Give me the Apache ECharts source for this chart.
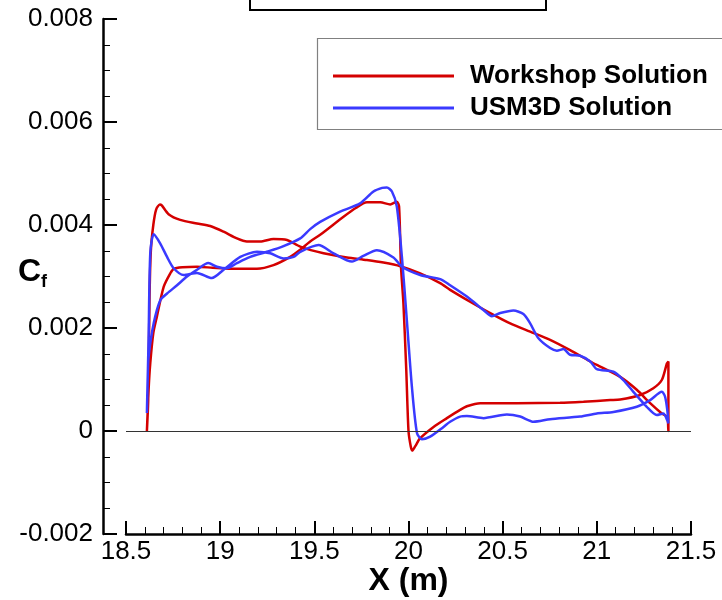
<!DOCTYPE html>
<html>
<head>
<meta charset="utf-8">
<script src="https://cdn.jsdelivr.net/npm/echarts@6/dist/echarts.min.js"></script>
<style>
html,body{margin:0;padding:0;background:#fff;}
#chart{width:722px;height:600px;}
</style>
</head>
<body>
<div id="chart"></div>
<script>
// ---- data ----
const seriesNames = ['Workshop Solution', 'USM3D Solution'];
const xTickLabels = ['18.5', '19', '19.5', '20', '20.5', '21', '21.5'];
const yTickLabels = ['-0.002', '0', '0.002', '0.004', '0.006', '0.008'];

// Workshop: branch through leading-edge peak, continuing to trailing edge
const workshopBranchA = [
  [18.611, 0.0000], [18.618, 0.0006], [18.625, 0.0026], [18.632, 0.0035],
  [18.645, 0.0040], [18.660, 0.0043], [18.680, 0.00440], [18.690, 0.00438],
  [18.726, 0.00421], [18.788, 0.00410], [18.877, 0.00403], [18.947, 0.00398],
  [19.018, 0.00387], [19.089, 0.00374], [19.142, 0.00368], [19.213, 0.00368],
  [19.283, 0.00373], [19.355, 0.00371], [19.425, 0.00358], [19.549, 0.00345],
  [19.673, 0.00337], [19.779, 0.00332], [19.867, 0.00327], [19.956, 0.00320],
  [20.062, 0.00306], [20.168, 0.00287], [20.221, 0.00274], [20.327, 0.00251],
  [20.434, 0.00229], [20.540, 0.00209], [20.646, 0.00193], [20.752, 0.00177],
  [20.858, 0.00157], [20.965, 0.00135], [21.018, 0.00125], [21.124, 0.00105],
  [21.212, 0.00080], [21.283, 0.00054], [21.345, 0.00034], [21.374, 0.00027],
  [21.380, 0.0000]
];
// Workshop: branch through the shock region
const workshopBranchB = [
  [18.611, 0.0000], [18.620, 0.0008], [18.629, 0.00132], [18.645, 0.0019],
  [18.664, 0.00222], [18.700, 0.0028], [18.735, 0.00306], [18.753, 0.00315],
  [18.800, 0.00318], [18.877, 0.00319], [18.960, 0.00317], [19.054, 0.00315],
  [19.195, 0.00315], [19.283, 0.00322], [19.372, 0.00338], [19.425, 0.00352],
  [19.478, 0.00368], [19.531, 0.00381], [19.655, 0.00416], [19.720, 0.00433],
  [19.779, 0.00444], [19.850, 0.00444], [19.903, 0.00440], [19.938, 0.00445],
  [19.950, 0.00436], [19.960, 0.0032], [19.973, 0.00248], [19.988, 0.0012],
  [20.000, 0.0000], [20.012, -0.00030], [20.020, -0.00038], [20.035, -0.00030],
  [20.062, -0.00014], [20.133, 0.00008], [20.204, 0.00025], [20.274, 0.00041],
  [20.310, 0.00048], [20.381, 0.00054], [20.575, 0.00054], [20.805, 0.00055],
  [20.929, 0.00057], [21.071, 0.00060], [21.124, 0.00061], [21.230, 0.00070],
  [21.300, 0.00083], [21.345, 0.00099], [21.372, 0.00131], [21.380, 0.00135],
  [21.381, 0.0000]
];
// USM3D: branch through leading-edge peak, continuing to trailing edge
const usm3dBranchA = [
  [18.611, 0.00035], [18.620, 0.0018], [18.629, 0.00346], [18.647, 0.00382],
  [18.682, 0.00364], [18.718, 0.00338], [18.753, 0.00316], [18.806, 0.00303],
  [18.877, 0.00307], [18.956, 0.00297], [19.018, 0.00313], [19.107, 0.00338],
  [19.195, 0.00348], [19.266, 0.00345], [19.337, 0.00335], [19.390, 0.00338],
  [19.425, 0.00348], [19.522, 0.00361], [19.602, 0.00345], [19.700, 0.00329],
  [19.760, 0.00340], [19.832, 0.00351], [19.920, 0.00337], [19.965, 0.00319],
  [20.062, 0.00303], [20.168, 0.00295], [20.221, 0.00283], [20.310, 0.00261],
  [20.398, 0.00235], [20.443, 0.00223], [20.487, 0.00229], [20.557, 0.00234],
  [20.610, 0.00227], [20.646, 0.00209], [20.690, 0.00180], [20.752, 0.00161],
  [20.788, 0.00156], [20.823, 0.00159], [20.858, 0.00148], [20.911, 0.00146],
  [20.965, 0.00135], [21.000, 0.00120], [21.088, 0.00115], [21.141, 0.00099],
  [21.194, 0.00076], [21.265, 0.00047], [21.318, 0.00031], [21.353, 0.00034],
  [21.374, 0.00021], [21.380, 0.00015]
];
// USM3D: branch through the shock region
const usm3dBranchB = [
  [18.611, 0.00035], [18.615, 0.0010], [18.620, 0.00144], [18.647, 0.00209],
  [18.682, 0.00254], [18.718, 0.00267], [18.771, 0.00283], [18.824, 0.00300],
  [18.877, 0.00313], [18.937, 0.00326], [18.983, 0.00319], [19.036, 0.00316],
  [19.089, 0.00326], [19.160, 0.00338], [19.248, 0.00348], [19.330, 0.00358],
  [19.425, 0.00374], [19.478, 0.00392], [19.531, 0.00406], [19.637, 0.00426],
  [19.743, 0.00442], [19.814, 0.00465], [19.860, 0.00472], [19.885, 0.00473],
  [19.912, 0.00465], [19.938, 0.00436], [19.965, 0.00338], [19.991, 0.00216],
  [20.018, 0.00086], [20.045, -0.00004], [20.071, -0.00016], [20.115, -0.00011],
  [20.186, 0.00008], [20.221, 0.00018], [20.274, 0.00028], [20.310, 0.00029],
  [20.398, 0.00025], [20.522, 0.00032], [20.593, 0.00028], [20.664, 0.00018],
  [20.752, 0.00023], [20.911, 0.00028], [21.000, 0.00034], [21.088, 0.00037],
  [21.212, 0.00047], [21.283, 0.00060], [21.345, 0.00076], [21.362, 0.00067],
  [21.374, 0.00041], [21.380, 0.00015]
];

const xMin = 18.5, xMax = 21.5, xStep = 0.5;
const yMin = -0.002, yMax = 0.008, yStep = 0.002;

// closed loops: branch A forward, branch B backward
const workshopLoop = workshopBranchA.concat(workshopBranchB.slice().reverse());
const usm3dLoop = usm3dBranchA.concat(usm3dBranchB.slice().reverse());

const FONT = "'Liberation Sans', Arial, Helvetica, sans-serif";
const chart = echarts.init(document.getElementById('chart'), null, {renderer: 'canvas'});

chart.setOption({
  animation: false,
  backgroundColor: '#ffffff',
  grid: {left: 126, right: 31, top: 19, bottom: 66, containLabel: false, outerBoundsMode: 'none'},
  xAxis: {
    type: 'value', min: xMin, max: xMax, interval: xStep,
    name: 'X (m)', nameLocation: 'middle', nameGap: 31, nameMoveOverlap: false,
    nameTextStyle: {fontFamily: FONT, fontSize: 32, fontWeight: 'bold', color: '#000'},
    axisLine: {show: true, onZero: false, lineStyle: {color: '#000', width: 2.5}},
    axisTick: {show: true, inside: true, length: 13, lineStyle: {color: '#000', width: 2}},
    minorTick: {show: true, splitNumber: 5, length: 7, lineStyle: {color: '#000', width: 1}},
    axisLabel: {
      margin: 5, fontFamily: FONT, fontSize: 26, color: '#000',
      formatter: function (v) { return xTickLabels[Math.round((v - xMin) / xStep)]; }
    },
    splitLine: {show: false}
  },
  yAxis: {
    type: 'value', min: yMin, max: yMax, interval: yStep, offset: 23,
    name: '{c|C}{f|f}', nameLocation: 'middle', nameGap: 56, nameRotate: 0, nameMoveOverlap: false,
    nameTextStyle: {
      color: '#000',
      padding: [0, 0, 8, 0],
      rich: {
        c: {fontFamily: FONT, fontSize: 32, fontWeight: 'bold', color: '#000', lineHeight: 38},
        f: {fontFamily: FONT, fontSize: 18, fontWeight: 'bold', color: '#000', lineHeight: 14, verticalAlign: 'bottom'}
      }
    },
    axisLine: {show: true, onZero: false, lineStyle: {color: '#000', width: 2.5}},
    axisTick: {show: true, inside: true, length: 14, lineStyle: {color: '#000', width: 2}},
    minorTick: {show: true, splitNumber: 4, length: 7, lineStyle: {color: '#000', width: 1}},
    axisLabel: {
      margin: 10, fontFamily: FONT, fontSize: 26, color: '#000',
      formatter: function (v) { return yTickLabels[Math.round((v - yMin) / yStep)]; }
    },
    splitLine: {show: false}
  },
  legend: {
    orient: 'vertical', left: 328, top: 58,
    icon: 'rect', itemWidth: 121, itemHeight: 3, itemGap: 6,
    textStyle: {fontFamily: FONT, fontSize: 26, fontWeight: 'bold', color: '#000', padding: [0, 0, 0, 11]},
    data: seriesNames
  },
  graphic: [
    {type: 'rect', shape: {x: 317.5, y: 38.5, width: 420, height: 91},
     style: {fill: 'none', stroke: '#808080', lineWidth: 1.2}, silent: true},
    {type: 'rect', shape: {x: 250, y: -10, width: 296, height: 20},
     style: {fill: 'none', stroke: '#000', lineWidth: 2}, silent: true}
  ],
  series: [
    {
      name: seriesNames[0], type: 'line', data: workshopLoop,
      showSymbol: false, symbol: 'none', smooth: 0.25,
      lineStyle: {color: '#d40000', width: 2.5}, itemStyle: {color: '#d40000'},
      z: 3,
      markLine: {
        silent: true, symbol: ['none', 'none'], label: {show: false},
        lineStyle: {color: '#333', width: 1, type: 'solid'},
        emphasis: {disabled: true},
        data: [{yAxis: 0}]
      }
    },
    {
      name: seriesNames[1], type: 'line', data: usm3dLoop,
      showSymbol: false, symbol: 'none', smooth: 0.25,
      lineStyle: {color: '#3a3aff', width: 2.5}, itemStyle: {color: '#3a3aff'},
      z: 4
    }
  ]
});
</script>
</body>
</html>
